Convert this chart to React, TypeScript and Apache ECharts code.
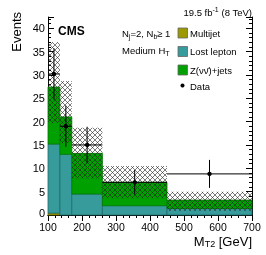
import React, { useEffect, useRef } from "react";
import * as echarts from "echarts";

// Bin edges of M_T2 [GeV]
const binEdges = [100, 135, 170, 260, 450, 700];
// Stacked background components (events)
const multijet = [0.4, 0, 0, 0, 0];
const lostLepton = [14.8, 13.0, 4.5, 2.0, 1.4];
const zInvJets = [12.2, 8.0, 8.7, 5.0, 1.8];
// Uncertainty band on total background
const bandLow = [19.7, 15.4, 7.8, 3.6, 0.9];
const bandHigh = [37.0, 28.7, 18.7, 10.5, 5.0];
// Data
const dataValues = [30.2, 19.0, 15.0, 7.0, 8.8];
const dataErrLow = [5.5, 4.4, 3.9, 2.6, 3.0];
const dataErrHigh = [5.5, 4.4, 3.9, 2.6, 3.0];
// Axis ticks
const xTicks = [100, 200, 300, 400, 500, 600, 700];
const yTicks = [0, 5, 10, 15, 20, 25, 30, 35, 40];

const FONT = "'Liberation Sans', Arial, Helvetica, sans-serif";
const C_MJ = "#9c9a00";
const C_LL = "#389b9b";
const C_Z = "#00a000";

function makeHatch() {
  const s = 5;
  const c = document.createElement("canvas");
  c.width = s;
  c.height = s;
  const ctx = c.getContext("2d")!;
  ctx.strokeStyle = "#222";
  ctx.lineWidth = 0.6;
  ctx.beginPath();
  ctx.moveTo(0, 0);
  ctx.lineTo(s, s);
  ctx.moveTo(s, 0);
  ctx.lineTo(0, s);
  ctx.stroke();
  return { image: c, repeat: "repeat", imageWidth: s, imageHeight: s } as any;
}

export default function App() {
  const ref = useRef<HTMLDivElement>(null);
  useEffect(() => {
    if (!ref.current) return;
    const chart = echarts.init(ref.current, undefined, { renderer: "svg" });
    const nb = binEdges.length - 1;
    const mjRows: number[][] = [];
    const llRows: number[][] = [];
    const zRows: number[][] = [];
    const bandRows: number[][] = [];
    const dataRows: number[][] = [];
    for (let i = 0; i < nb; i++) {
      const a = binEdges[i];
      const b = binEdges[i + 1];
      const s0 = multijet[i];
      const s1 = s0 + lostLepton[i];
      const s2 = s1 + zInvJets[i];
      mjRows.push([a, b, 0, s0]);
      llRows.push([a, b, s0, s1]);
      zRows.push([a, b, s1, s2]);
      bandRows.push([a, b, bandLow[i], bandHigh[i]]);
      dataRows.push([a, b, (a + b) / 2, dataValues[i], dataErrLow[i], dataErrHigh[i]]);
    }
    const hatch = makeHatch();
    const rectItem = (fill: any, stroke: string | null, lw: number) => (params: any, api: any) => {
      const y0 = api.value(2);
      const y1 = api.value(3);
      if (y1 - y0 <= 0) return null;
      const p0 = api.coord([api.value(0), y1]);
      const p1 = api.coord([api.value(1), y0]);
      return {
        type: "rect",
        shape: { x: p0[0], y: p0[1], width: p1[0] - p0[0], height: p1[1] - p0[1] },
        style: { fill, stroke: stroke || undefined, lineWidth: stroke ? lw : 0 },
      };
    };
    const axisCommon = {
      axisLine: { show: true, lineStyle: { color: "#000", width: 1 } },
      axisTick: { show: true, inside: true, length: 6, lineStyle: { color: "#000", width: 1 } },
      minorTick: { show: true, splitNumber: 5, length: 3, lineStyle: { color: "#000", width: 1 } },
      splitLine: { show: false },
      minorSplitLine: { show: false },
    };
    const small = { fontFamily: FONT, fontSize: 7, lineHeight: 5, verticalAlign: "bottom", fill: "#000" };
    const sup = { fontFamily: FONT, fontSize: 7, lineHeight: 5, verticalAlign: "top", fill: "#000" };
    const norm = { fontFamily: FONT, fontSize: 9.5, lineHeight: 13, fill: "#000" };
    chart.setOption({
      animation: false,
      grid: { left: 48, right: 14, top: 17, bottom: 40 },
      xAxis: [
        {
          type: "value", min: xTicks[0], max: xTicks[xTicks.length - 1], interval: 100, position: "bottom",
          ...axisCommon,
          axisLabel: { show: true, fontFamily: FONT, fontSize: 10.5, color: "#000", margin: 6 },
        },
        {
          type: "value", min: xTicks[0], max: xTicks[xTicks.length - 1], interval: 100, position: "top",
          ...axisCommon, axisLabel: { show: false },
        },
      ],
      yAxis: [
        {
          type: "value", min: 0, max: 42.4, interval: 5, position: "left",
          ...axisCommon,
          axisLabel: {
            show: true, fontFamily: FONT, fontSize: 11, color: "#000", margin: 3,
            formatter: (v: number) => {
              const r = Math.round(v * 100) / 100;
              if (yTicks.indexOf(r) < 0) return "";
              return r === 0 ? "{z|0}" : String(r);
            },
            rich: { z: { fontFamily: FONT, fontSize: 11, color: "#000", padding: [0, 0, 4, 0] } },
          },
        },
        {
          type: "value", min: 0, max: 42.4, interval: 5, position: "right",
          ...axisCommon, axisLabel: { show: false },
        },
      ],
      series: [
        { type: "custom", name: "Multijet", data: mjRows, encode: { x: [0, 1], y: [2, 3] }, renderItem: rectItem(C_MJ, "#6f6d00", 0.8), z: 2 },
        { type: "custom", name: "Lost lepton", data: llRows, encode: { x: [0, 1], y: [2, 3] }, renderItem: rectItem(C_LL, "#1f6a6a", 0.8), z: 2 },
        { type: "custom", name: "Z(νν̄)+jets", data: zRows, encode: { x: [0, 1], y: [2, 3] }, renderItem: rectItem(C_Z, "#007a00", 0.8), z: 2 },
        { type: "custom", name: "Uncertainty", data: bandRows, encode: { x: [0, 1], y: [2, 3] }, renderItem: rectItem(hatch, null, 0), z: 3 },
        {
          type: "custom", name: "Data", data: dataRows, encode: { x: [0, 1], y: [3, 4] }, z: 4,
          renderItem: (params: any, api: any) => {
            const x0 = api.value(0), x1 = api.value(1), xc = api.value(2), y = api.value(3);
            const lo = api.value(4), hi = api.value(5);
            const pa = api.coord([x0, y]);
            const pb = api.coord([x1, y]);
            const pc = api.coord([xc, y]);
            const pl = api.coord([xc, y - lo]);
            const ph = api.coord([xc, y + hi]);
            return {
              type: "group",
              children: [
                { type: "line", shape: { x1: pa[0], y1: pa[1], x2: pb[0], y2: pb[1] }, style: { stroke: "#000", lineWidth: 1 } },
                { type: "line", shape: { x1: pl[0], y1: pl[1], x2: ph[0], y2: ph[1] }, style: { stroke: "#000", lineWidth: 1 } },
                { type: "circle", shape: { cx: pc[0], cy: pc[1], r: 2.2 }, style: { fill: "#000" } },
              ],
            };
          },
        },
      ],
      graphic: [
        { type: "text", left: 58, top: 25, style: { text: "CMS", fontFamily: FONT, fontWeight: "bold", fontSize: 12, fill: "#000" } },
        {
          type: "text", x: 252, y: 12,
          style: {
            text: "{n|19.5 fb}{p|-1}{n| (8 TeV)}", align: "right", verticalAlign: "middle",
            rich: { n: norm, p: sup },
          },
        },
        {
          type: "text", x: 122, y: 33,
          style: {
            text: "{n|N}{s|j}{n|=2, N}{s|b}{n|≥ 1}", align: "left", verticalAlign: "middle",
            rich: { n: norm, s: small },
          },
        },
        {
          type: "text", x: 122, y: 50.5,
          style: {
            text: "{n|Medium H}{s|T}", align: "left", verticalAlign: "middle",
            rich: { n: norm, s: small },
          },
        },
        { type: "rect", shape: { x: 178, y: 28, width: 9.5, height: 10 }, style: { fill: C_MJ, stroke: "#666", lineWidth: 0.8 } },
        { type: "rect", shape: { x: 178, y: 46.5, width: 9.5, height: 10 }, style: { fill: C_LL, stroke: "#666", lineWidth: 0.8 } },
        { type: "rect", shape: { x: 178, y: 65, width: 9.5, height: 10 }, style: { fill: C_Z, stroke: "#666", lineWidth: 0.8 } },
        { type: "circle", shape: { cx: 182.5, cy: 85.5, r: 2 }, style: { fill: "#000" } },
        { type: "text", x: 190, y: 33, style: { text: "Multijet", fontFamily: FONT, fontSize: 9.5, fill: "#000", verticalAlign: "middle" } },
        { type: "text", x: 190, y: 51.5, style: { text: "Lost lepton", fontFamily: FONT, fontSize: 9.5, fill: "#000", verticalAlign: "middle" } },
        { type: "text", x: 190, y: 70, style: { text: "Z(νν̄)+jets", fontFamily: FONT, fontSize: 9.5, fill: "#000", verticalAlign: "middle" } },
        { type: "text", x: 190, y: 86, style: { text: "Data", fontFamily: FONT, fontSize: 9.5, fill: "#000", verticalAlign: "middle" } },
        {
          type: "text", x: 16, y: 12, rotation: Math.PI / 2,
          style: { text: "Events", fontFamily: FONT, fontSize: 13, fill: "#000", align: "right", verticalAlign: "middle" },
        },
        {
          type: "text", x: 252, y: 241,
          style: {
            text: "{n|M}{s|T2}{n| [GeV]}", align: "right", verticalAlign: "middle",
            rich: {
              n: { fontFamily: FONT, fontSize: 13, lineHeight: 14, fill: "#000" },
              s: { fontFamily: FONT, fontSize: 9, lineHeight: 7, verticalAlign: "bottom", fill: "#000" },
            },
          },
        },
      ],
    });
    return () => chart.dispose();
  }, []);
  return <div ref={ref} style={{ position: "fixed", left: 0, top: 0, width: 266, height: 255 }} />;
}
